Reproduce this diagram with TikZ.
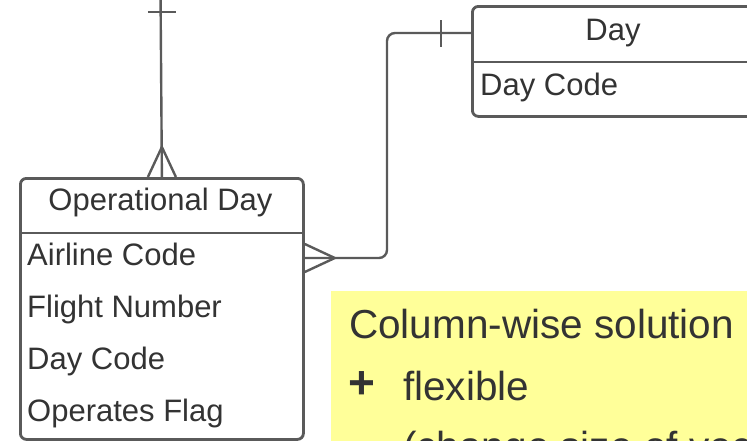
\documentclass[tikz,border=0pt]{standalone}
\usepackage{fontspec}
\setmainfont{Liberation Sans}
\usetikzlibrary{positioning,calc}
\definecolor{ink}{HTML}{333333}
\definecolor{edge}{HTML}{5A5A5A}
\definecolor{note}{HTML}{FFFF99}
\tikzset{
  entity/.style={draw=edge,line width=2.8pt,rounded corners=6pt,fill=white,anchor=north west,inner sep=0pt},
  title/.style={font=\fontsize{31}{36}\selectfont,text=ink,anchor=base,inner sep=0pt},
  attr/.style={font=\fontsize{31}{36}\selectfont,text=ink,anchor=base west,inner sep=0pt},
  rel/.style={draw=edge,line width=2.4pt,rounded corners=8pt},
  foot/.style={draw=edge,line width=2.4pt},
  notebox/.style={fill=note,anchor=north west,inner sep=0pt},
  notetext/.style={font=\fontsize{40.5}{48}\selectfont,text=ink,anchor=base west,inner sep=0pt},
}
\begin{document}
\begin{tikzpicture}[x=1pt,y=-1pt]
\useasboundingbox (0,0) rectangle (747,440);
\clip (0,0) rectangle (747,440);

% entities
\node[entity,minimum width=283pt,minimum height=261pt] (od) at (19,177) {};
\draw[foot] (od.west |- 0,233) -- (od.east |- 0,233);
\node[title] (odtitle) at (160.5,210) {Operational Day};
\foreach \t [count=\i] in {Airline Code,Flight Number,Day Code,Operates Flag}
  \node[attr] (a\i) at (27,213+52*\i) {\t};

\node[entity,minimum width=284pt,minimum height=110pt] (day) at (471,5) {};
\draw[foot] (day.west |- 0,62) -- (day.east |- 0,62);
\node[title] (daytitle) at (613,40) {Day};
\node[attr] (d1) at (480,95) {Day Code};

% relationships
\coordinate (odport) at (od.east |- 0,258);
\coordinate (dayport) at (day.west |- 0,33);
\coordinate (bend) at (387,258);
\draw[rel] (odport) -- (bend) |- (dayport);
\draw[foot] ($(odport)+(0,-14)$) -- ($(odport)+(30,0)$) -- ($(odport)+(0,14)$);
\draw[foot] ($(dayport)+(-30,-13)$) -- ($(dayport)+(-30,14)$);

\coordinate (up) at (160.5,-10);
\draw[foot] (od.north) -- (up);
\draw[foot] ($(od.north)+(-14,-165)$) -- ($(od.north)+(14,-165)$);
\draw[foot] ($(od.north)+(-14,0)$) -- ($(od.north)+(0,-30)$) -- ($(od.north)+(14,0)$);

% note
\node[notebox,minimum width=430pt,minimum height=170pt] (sol) at (331,291) {};
\node[notetext] (soltitle) at (349,338) {Column-wise solution};
\node[notetext,font=\fontsize{46}{48}\selectfont\bfseries] (plus) at (348,398) {+};
\node[notetext] (pro) at (403,400) {flexible};
\node[notetext] (prodetail) at (403,460) {(change size of vector)};

\end{tikzpicture}
\end{document}
